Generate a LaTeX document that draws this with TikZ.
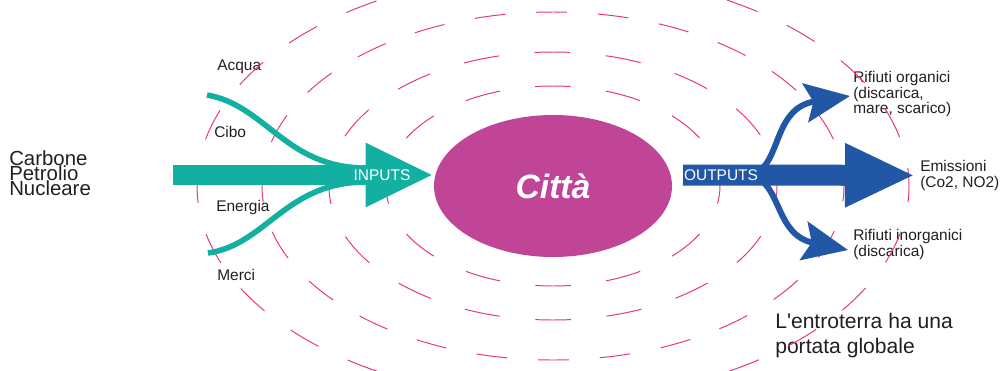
\documentclass[tikz,border=0pt]{standalone}
\usepackage{fontspec}
\setmainfont{Liberation Sans}
\usetikzlibrary{shapes.geometric, arrows.meta}
\definecolor{cityfill}{HTML}{C04596}
\definecolor{inteal}{HTML}{12B0A0}
\definecolor{outblue}{HTML}{2257A6}
\definecolor{ringpink}{HTML}{E8357F}
\definecolor{labelgray}{HTML}{231F20}
\lineskiplimit=-100pt

\begin{document}
\begin{tikzpicture}[x=0.25mm, y=-0.25mm,
  flowtxt/.style={font=\fontsize{11}{11.2}\selectfont, text=labelgray, inner sep=0pt, align=left},
  ringline/.style={draw=ringpink, line width=0.7pt},
  inflow/.style={draw=inteal, line width=1.4mm},
  inarrow/.style={draw=inteal, line width=5mm, -{Triangle[length=17mm, width=14.75mm]}},
  outarrow/.style={draw=outblue, line width=5.25mm, -{Triangle[length=17.5mm, width=14.75mm]}},
  outbranch/.style={draw=outblue, line width=1.5mm, -{Stealth[length=11.25mm, width=9.75mm, inset=2mm]}}]

\useasboundingbox (0, 0) rectangle (1003, 370);

\node (sources) at (9, 150) [anchor=north west, inner sep=0pt, align=left, text=labelgray,
  font=\fontsize{14.5}{11}\selectfont] {Carbone\\Petrolio\\Nucleare};

\node (acqua) at (217, 70) [flowtxt, anchor=base west] {Acqua};
\node (cibo) at (214, 137) [flowtxt, anchor=base west] {Cibo};
\node (energia) at (216, 211) [flowtxt, anchor=base west] {Energia};
\node (merci) at (217, 280) [flowtxt, anchor=base west] {Merci};

\node (organici) at (853, 71) [flowtxt, anchor=north west] {Rifiuti organici\\(discarica,\\mare, scarico)};
\node (emissioni) at (915, 160) [flowtxt, inner xsep=1.25mm, anchor=north west] {Emissioni\\(Co2, NO2)};
\node (inorganici) at (853, 229) [flowtxt, anchor=north west] {Rifiuti inorganici\\(discarica)};

\node (hinter) at (775, 313) [anchor=north west, inner sep=0pt, align=left, text=labelgray,
  font=\fontsize{15}{17.8}\selectfont] {L\textquotesingle{}entroterra ha una\\portata globale};

\node (city) at (553, 186) [ellipse, fill=cityfill, minimum width=59.5mm, minimum height=35.5mm,
  inner sep=0pt, text=white, font=\fontsize{24}{24}\selectfont\bfseries\itshape] {Città};

\begin{scope}
\clip (0, 0) rectangle (1003, 370);
\foreach \ry/\rx/\d/\p in {100/167/8.875mm/4.44mm, 134/224/8.92mm/4.46mm,
    174/291/7.72mm/3.86mm, 213/356/8.1mm/4.05mm}
  \draw[ringline, dash pattern=on \d off \d, dash phase=\p]
    (city.center) ellipse [x radius=\rx, y radius=\ry];
\end{scope}

\coordinate (upIn) at (207, 95);
\coordinate (loIn) at (208, 253);
\coordinate (upJoin) at (362, 168);
\coordinate (loJoin) at (362, 182);
\coordinate (inS) at (173, 175);

\draw[inflow] (upIn) .. controls (265, 105) and (285, 166) .. (upJoin);
\draw[inflow] (loIn) .. controls (265, 245) and (285, 184) .. (loJoin);
\draw[inarrow] (inS) -- (city.west |- inS);
\node (inputs) at (382, 175) [flowtxt, text=white] {INPUTS};

\coordinate (outS) at (683, 175);
\coordinate (fork) at (752, 175);
\coordinate (orgTip) at (850, 96);
\coordinate (inorgTip) at (848, 250);

\draw[outarrow] (outS) -- (emissioni.west);
\draw[outbranch] (fork) .. controls (782, 165) and (772, 108) .. (orgTip);
\draw[outbranch] (fork) .. controls (782, 185) and (775, 235) .. (inorgTip);
\node (outputs) at (721, 175) [flowtxt, text=white] {OUTPUTS};

\end{tikzpicture}
\end{document}
